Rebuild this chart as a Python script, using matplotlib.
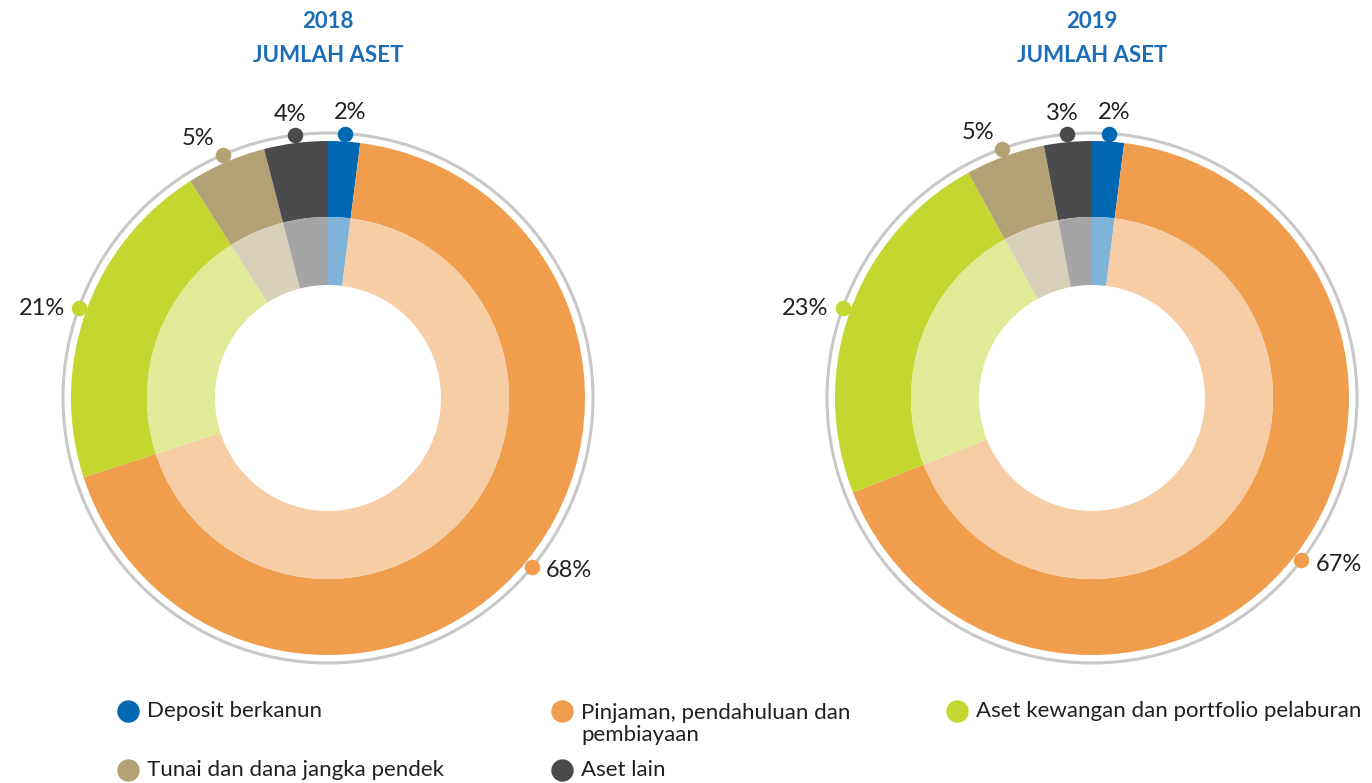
import numpy as np
import matplotlib
matplotlib.use("Agg")
import matplotlib.pyplot as plt
from matplotlib.patches import Circle

plt.rcParams['font.family'] = ['Lato', 'DejaVu Sans']

years = ["2018", "2019"]
categories = ["Deposit berkanun", "Pinjaman, pendahuluan dan\npembiayaan",
              "Aset kewangan dan portfolio pelaburan", "Tunai dan dana jangka pendek",
              "Aset lain"]
values_2018 = [2, 68, 21, 5, 4]
values_2019 = [2, 67, 23, 5, 3]
colors = ["#0067b1", "#f09e4e", "#c3d730", "#b3a276", "#4b4b4d"]
light_colors = ["#80b3d8", "#f7cda6", "#e0ea97", "#d9d0ba", "#a5a5a6"]
title_color = "#1a6db6"
text_color = "#231f20"

W, H = 1372, 783
fig = plt.figure(figsize=(W / 100, H / 100), dpi=100)

centers = [(328, 398), (1092, 398)]
R_OUT, R_MID, R_IN, R_RING = 257, 181, 113, 265
HALF = 320
LBL_FS = 17

for (cx, cy), year, vals in zip(centers, years, [values_2018, values_2019]):
    ax = fig.add_axes([(cx - HALF) / W, (H - cy - HALF) / H, 2 * HALF / W, 2 * HALF / H])
    ax.pie(vals, radius=R_OUT, colors=colors, startangle=90, counterclock=False,
           wedgeprops=dict(width=R_OUT - R_MID, linewidth=0))
    ax.pie(vals, radius=R_MID, colors=light_colors, startangle=90, counterclock=False,
           wedgeprops=dict(width=R_MID - R_IN, linewidth=0))
    ax.add_patch(Circle((0, 0), R_RING, fill=False, edgecolor="#c8c8c8", linewidth=2.2))
    ax.set_xlim(-HALF, HALF)
    ax.set_ylim(-HALF, HALF)
    ax.set_aspect('equal')
    ax.axis('off')

    total = sum(vals)
    cum = 0
    for v, c in zip(vals, colors):
        mid = (cum + v / 2) / total
        cum += v
        theta = np.deg2rad(90 - 360 * mid)
        x, y = R_RING * np.cos(theta), R_RING * np.sin(theta)
        ax.scatter([x], [y], s=125, color=c, zorder=5, linewidths=0, clip_on=False)
        s, co = np.cos(theta), np.sin(theta)
        lbl = f"{v}%"
        if co > 0.95:
            ax.text(x + 5 * np.sign(s), y + 21, lbl, ha='center', va='center',
                    fontsize=LBL_FS, color=text_color)
        elif co > 0.8:
            ax.text(x - 8 if s < 0 else x + 8, y + 16, lbl,
                    ha='right' if s < 0 else 'left', va='center', fontsize=LBL_FS,
                    color=text_color)
        else:
            ax.text(x - 14 if s < 0 else x + 14, y - 4 * (s > 0), lbl,
                    ha='right' if s < 0 else 'left', va='center', fontsize=LBL_FS,
                    color=text_color)

    fig.text(cx / W, 1 - 22 / H, year, ha='center', va='center', fontsize=16,
             fontweight='bold', color=title_color)
    fig.text(cx / W, 1 - 55 / H, "JUMLAH ASET", ha='center', va='center', fontsize=16,
             fontweight='bold', color=title_color)

# legend
lax = fig.add_axes([0, 0, 1, 1])
lax.set_xlim(0, W)
lax.set_ylim(H, 0)
lax.axis('off')
col_x = [128, 562, 957]
row_y = [711, 770]
for i, (cat, c) in enumerate(zip(categories, colors)):
    r, k = divmod(i, 3)
    x, y = col_x[k], row_y[r]
    lax.scatter([x], [y], s=260, color=c, linewidths=0)
    multi = '\n' in cat
    lax.text(x + 19, y - 8 if multi else y, cat, ha='left',
             va='top' if multi else 'center',
             fontsize=16, color=text_color, linespacing=1.1)

fig.savefig("out.png", dpi=100)
